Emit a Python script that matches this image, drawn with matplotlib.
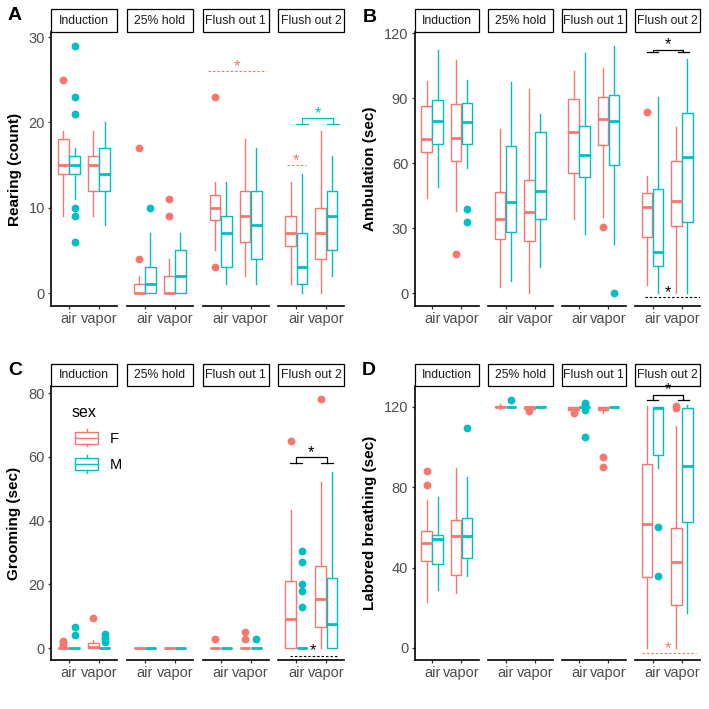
import matplotlib
matplotlib.use("Agg")
import matplotlib.pyplot as plt
from matplotlib.patches import Rectangle, Patch
from matplotlib.lines import Line2D
from matplotlib.legend_handler import HandlerBase

plt.rcParams['font.family'] = ['Liberation Sans', 'DejaVu Sans']

phases = ["Induction", "25% hold", "Flush out 1", "Flush out 2"]
treatments = ["air", "vapor"]
sexes = ["F", "M"]
sex_colors = {"F": "#F8766D", "M": "#00BFC4", "k": "black"}

# rows = phase, columns = air F, air M, vapor F, vapor M
rear_q1 = [[14, 14, 12, 12], [0, 0, 0, 0], [8.5, 3, 6, 4], [5.5, 1, 4, 5]]
rear_med = [[15, 15, 15, 14], [0, 1, 0, 2], [10, 7, 9, 8], [7, 3, 7, 9]]
rear_q3 = [[18, 16, 16, 17], [1, 3, 2, 5], [11.5, 9, 12, 12], [9, 7, 10, 12]]
rear_lo = [[9, 11, 9, 8], [0, 0, 0, 0], [5, 1, 2, 1], [1, 0, 0, 2]]
rear_hi = [[19, 17, 19, 20], [2, 7, 4, 7], [13, 13, 18, 17], [13, 14, 19, 16]]
rear_out = [[[25], [29, 23, 21, 10, 9, 6], [], []],
            [[17, 4], [10], [11, 9], []],
            [[23, 3], [], [], []],
            [[], [], [], []]]

amb_q1 = [[65, 69, 61, 69], [25, 28, 24, 34], [55.5, 53.7, 68.3, 59], [25.7, 12.5, 31, 32.6]]
amb_med = [[71, 79.4, 71.4, 79], [34.2, 41.8, 37.2, 47.1], [74.2, 63.7, 80.3, 79.4], [39.5, 19.1, 42.5, 62.6]]
amb_q3 = [[86.3, 89.1, 87.1, 87.8], [46.8, 67.8, 52.2, 74.5], [89.4, 77.2, 90.6, 91.4], [46, 47.8, 61.1, 82.9]]
amb_lo = [[43.7, 48.8, 38, 57.5], [2.6, 5.5, 0, 12.2], [34.2, 27.1, 35.2, 22.6], [3.7, 0, 0, 0]]
amb_hi = [[97.8, 112.2, 107.5, 98.3], [75.7, 97.2, 94.2, 82.6], [102.5, 110.6, 103.7, 114.1], [54, 90.6, 76.8, 108]]
amb_out = [[[], [], [18], [39, 33]],
           [[], [], [], []],
           [[], [], [30.5], [0]],
           [[83.5], [], [], []]]

groom_q1 = [[0, 0, 0, 0], [0, 0, 0, 0], [0, 0, 0, 0], [0, 0, 6.5, 0]]
groom_med = [[0, 0, 0.3, 0], [0, 0, 0, 0], [0, 0, 0, 0], [9, 0, 15.3, 7.4]]
groom_q3 = [[0, 0, 1.5, 0], [0, 0, 0, 0], [0, 0, 0, 0], [21, 0, 25.7, 22.1]]
groom_lo = [[0, 0, 0, 0], [0, 0, 0, 0], [0, 0, 0, 0], [0, 0, 0, 0]]
groom_hi = [[0, 0, 2.5, 0], [0, 0, 0, 0], [0, 0, 0, 0], [43.4, 0, 52, 55.1]]
groom_out = [[[2.3, 1.6, 1.0], [6.7, 4], [9.3], [4.3, 3.5, 2.7, 2.0]],
             [[], [], [], []],
             [[2.8], [], [5, 2.8], [2.8]],
             [[65], [30.5, 27, 20, 18, 13], [78], []]]

lab_q1 = [[43.4, 41.7, 36.3, 44.9], [119.7, 120, 119, 120], [118.5, 120, 118.5, 120], [35.1, 96.2, 21.4, 62.5]]
lab_med = [[52, 54.2, 55.7, 55.7], [120, 120, 120, 120], [119, 120, 119.5, 120], [61.5, 119.5, 42.9, 90.4]]
lab_q3 = [[58.1, 56.1, 63.6, 64.8], [120.3, 120, 120, 120], [120, 120, 120, 120], [91.8, 119.7, 59.8, 119.6]]
lab_lo = [[23, 28.8, 27.2, 35.9], [118.8, 120, 119, 120], [117.5, 120, 117, 120], [0, 89.6, 0, 17.2]]
lab_hi = [[73.5, 75.2, 89.6, 85.1], [121.2, 120, 120, 120], [120, 120, 120, 120], [120.2, 120, 110.5, 120.7]]
lab_out = [[[88, 81], [], [], [109.5]],
           [[], [123.5], [118], []],
           [[117], [122, 121, 118.5, 105], [95, 90], []],
           [[], [60, 36], [120.5, 119.5], []]]

# significance marks: (phase, x0, x1, star_x, y, colour key)
rear_dashed = [(2, 0.58, 2.5, 1.54, 26, "F"), (3, 0.67, 1.33, 1.0, 15, "F")]
amb_dashed = [(3, 0.74, 2.6, 1.52, -2, "k")]
groom_dashed = [(3, 0.77, 2.38, 1.54, -2.4, "k")]
lab_dashed = [(3, 0.63, 2.49, 1.54, -2.6, "F")]
# brackets: (phase, x_left, x_right, foot half width, y_top, y_foot, colour key)
rear_brackets = [(3, 1.2, 2.22, 0.2, 20.5, 19.8, "M")]
amb_brackets = [(3, 1.0, 2.05, 0.19, 112.4, 111.1, "k")]
groom_brackets = [(3, 0.97, 2.03, 0.2, 59.8, 58.2, "k")]
lab_brackets = [(3, 1.0, 2.05, 0.19, 126, 123.2, "k")]

W = 709.0
fig = plt.figure(figsize=(7.09, 7.09), dpi=100)

TICK_GRAY = "#4D4D4D"


def make_axes(left0, width, step, top, bottom):
    axes = []
    for i in range(4):
        l = left0 + i * step
        axes.append(fig.add_axes([l / W, 1 - bottom / W, width / W, (bottom - top) / W]))
    return axes


def draw_panel(axes, q1, med, q3, lo, hi, out, ylim, yticks, dashed, brackets):
    h_px = 274.0
    for p, ax in enumerate(axes):
        for t in range(2):
            for s in range(2):
                k = t * 2 + s
                c = sex_colors[sexes[s]]
                st = dict(q1=q1[p][k], med=med[p][k], q3=q3[p][k],
                          whislo=lo[p][k], whishi=hi[p][k], fliers=out[p][k])
                ax.bxp([st], positions=[t + 1 + (s - 0.5) * 0.375], widths=0.36,
                       showcaps=False, patch_artist=True, manage_ticks=False,
                       boxprops=dict(facecolor='white', edgecolor=c, linewidth=1.0),
                       medianprops=dict(color=c, linewidth=2.0, solid_capstyle='butt'),
                       whiskerprops=dict(color=c, linewidth=1.0),
                       flierprops=dict(marker='o', markerfacecolor=c, markeredgecolor=c,
                                       markersize=4.6, linestyle='none'))
        ax.set_xlim(0.4, 2.6)
        ax.set_ylim(*ylim)
        ax.set_xticks([1, 2])
        ax.set_xticklabels(treatments)
        ax.tick_params(axis='both', length=2.5, width=0.9, color='#333333',
                       labelsize=10.5, labelcolor=TICK_GRAY, pad=2)
        ax.spines['top'].set_visible(False)
        ax.spines['right'].set_visible(False)
        ax.spines['bottom'].set_linewidth(1.2)
        ax.spines['left'].set_linewidth(1.2)
        if p == 0:
            ax.set_yticks(yticks)
        else:
            ax.spines['left'].set_visible(False)
            ax.set_yticks([])
        sh = 22.5 / h_px
        ax.add_patch(Rectangle((0, 1.0), 1, sh, transform=ax.transAxes, clip_on=False,
                               facecolor='white', edgecolor='black', linewidth=0.9))
        ax.text(0.5, 1 + sh / 2, phases[p], transform=ax.transAxes, ha='center',
                va='center', fontsize=8.8, color='#1A1A1A')

    for p, x0, x1, sx, y, ck in dashed:
        c = sex_colors[ck]
        ax = axes[p]
        ax.plot([x0, x1], [y, y], color=c, linewidth=0.8, dashes=(2.2, 1.8))
        ax.annotate('*', xy=(sx, y), xytext=(0, 3.5), textcoords='offset points',
                    ha='center', va='center', color=c, fontsize=12)
    for p, xl, xr, hw, yt, yf, ck in brackets:
        c = sex_colors[ck]
        ax = axes[p]
        ax.plot([xl, xl, xr, xr], [yf, yt, yt, yf], color=c, linewidth=0.9, clip_on=False)
        ax.plot([xl - hw, xl + hw], [yf, yf], color=c, linewidth=0.9, clip_on=False)
        ax.plot([xr - hw, xr + hw], [yf, yf], color=c, linewidth=0.9, clip_on=False)
        ax.annotate('*', xy=((xl + xr) / 2, yt), xytext=(0, 3.5), textcoords='offset points',
                    ha='center', va='center', color=c, fontsize=12, annotation_clip=False)


class BoxKey(HandlerBase):
    def create_artists(self, legend, orig_handle, xdescent, ydescent, width, height,
                       fontsize, trans):
        c = orig_handle.get_edgecolor()
        x0, y0 = -xdescent, -ydescent
        bx0, bx1 = x0 + 0.1 * width, x0 + 0.9 * width
        by0, by1 = y0 + 0.15 * height, y0 + 0.85 * height
        xm = x0 + width / 2
        box = Rectangle((bx0, by0), bx1 - bx0, by1 - by0, facecolor='white', edgecolor=c,
                        linewidth=1.0, transform=trans)
        med_line = Line2D([bx0, bx1], [y0 + height / 2] * 2, color=c, linewidth=1.0, transform=trans)
        w1 = Line2D([xm, xm], [by1, y0 + height], color=c, linewidth=1.0, transform=trans)
        w2 = Line2D([xm, xm], [y0, by0], color=c, linewidth=1.0, transform=trans)
        return [box, med_line, w1, w2]


axA = make_axes(51, 66, 75.8, 32, 306)
axB = make_axes(414.5, 64.5, 73.5, 32, 306)
axC = make_axes(51, 66, 75.8, 386, 660)
axD = make_axes(414.5, 64.5, 73.5, 386, 660)

draw_panel(axA, rear_q1, rear_med, rear_q3, rear_lo, rear_hi, rear_out,
           (-1.52, 30.59), [0, 10, 20, 30], rear_dashed, rear_brackets)
draw_panel(axB, amb_q1, amb_med, amb_q3, amb_lo, amb_hi, amb_out,
           (-6, 120.5), [0, 30, 60, 90, 120], amb_dashed, amb_brackets)
draw_panel(axC, groom_q1, groom_med, groom_q3, groom_lo, groom_hi, groom_out,
           (-3.75, 82.2), [0, 20, 40, 60, 80], groom_dashed, groom_brackets)
draw_panel(axD, lab_q1, lab_med, lab_q3, lab_lo, lab_hi, lab_out,
           (-6, 130.4), [0, 40, 80, 120], lab_dashed, lab_brackets)

# y labels and panel letters
for x, y, txt in [(15, 169, "Rearing (count)"), (370, 169, "Ambulation (sec)"),
                  (14, 523, "Grooming (sec)"), (370, 523, "Labored breathing (sec)")]:
    fig.text(x / W, 1 - y / W, txt, rotation=90, ha='center', va='center',
             fontsize=11, fontweight='bold')
for x, y, txt in [(8, 7, "A"), (363, 9, "B"), (8, 362, "C"), (362, 362, "D")]:
    fig.text(x / W, 1 - y / W, txt, ha='left', va='top', fontsize=14, fontweight='bold')

handles = [Patch(facecolor='white', edgecolor=sex_colors[s], label=s) for s in sexes]
leg = axC[0].legend(handles=handles, title='sex', loc='upper left',
                    bbox_to_anchor=(72 / W, 1 - 405 / W), bbox_transform=fig.transFigure,
                    frameon=False, fontsize=10.5, title_fontsize=11.5, alignment='left',
                    handler_map={Patch: BoxKey()}, handlelength=2.0, handleheight=1.45,
                    handletextpad=0.6, labelspacing=0.62, borderpad=0, borderaxespad=0)

fig.savefig("out.png", dpi=100)
